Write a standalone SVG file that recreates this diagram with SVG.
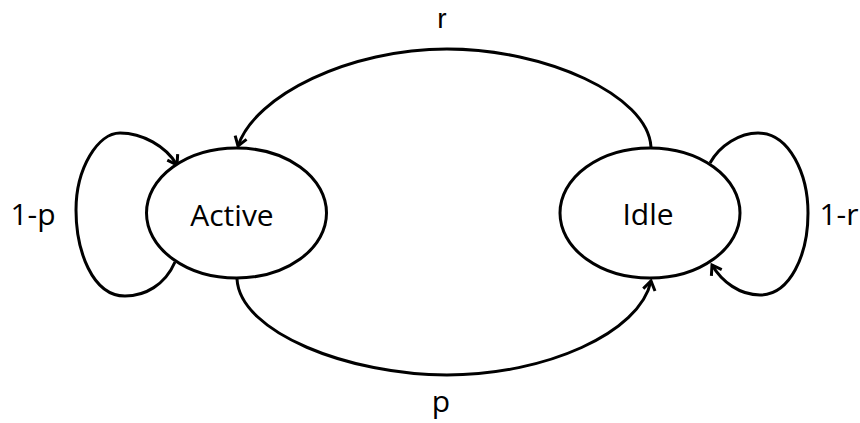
<svg xmlns="http://www.w3.org/2000/svg" width="860" height="423" viewBox="0 0 860 423">
<style>
.node{fill:#fff;stroke:#000;stroke-width:3}
.edge{fill:none;stroke:#000;stroke-width:3}
text{font-family:"Open Sans","Noto Sans",Arial,sans-serif;font-size:30px;fill:#000;text-anchor:middle}
.top{font-family:"Liberation Sans",Arial,sans-serif;font-size:28px}
</style>
<defs>
<marker id="arr" markerUnits="userSpaceOnUse" markerWidth="20" markerHeight="20" viewBox="-12 -10 14 20" refX="0" refY="0" orient="auto">
<path d="M -9 -6 L 0 0 L -9 6" fill="none" stroke="#000" stroke-width="3" stroke-linejoin="miter"/>
</marker>
</defs>
<g id="connectors">
<path class="edge" d="M 651 147 C 648 95 545 49 447 49 C 350 49 255 95 238 146" marker-end="url(#arr)"/>
<path class="edge" d="M 237 279 C 240 333 350 375 447 375 C 545 375 640 333 651 281" marker-end="url(#arr)"/>
<path class="edge" d="M 175 262 C 165 285 145 296 125 296 C 92 296 76 250 76 210 C 76 168 98 133 120 133 C 142 133 166 146 177 165" marker-end="url(#arr)"/>
<path class="edge" d="M 710 163 C 720 145 740 133 758 133 C 790 133 808 175 808 213 C 808 255 790 295 760 295 C 740 295 722 282 712 265" marker-end="url(#arr)"/>
</g>
<g id="node-active">
<ellipse class="node" cx="236.5" cy="213" rx="90" ry="65"/>
<text x="232" y="226">Active</text>
</g>
<g id="node-idle">
<ellipse class="node" cx="650" cy="213" rx="90" ry="65"/>
<text x="648" y="225">Idle</text>
</g>
<g id="labels">
<text class="top" x="442" y="28">r</text>
<text x="441" y="412">p</text>
<text x="33" y="225">1-p</text>
<text x="839" y="225">1-r</text>
</g>
</svg>
